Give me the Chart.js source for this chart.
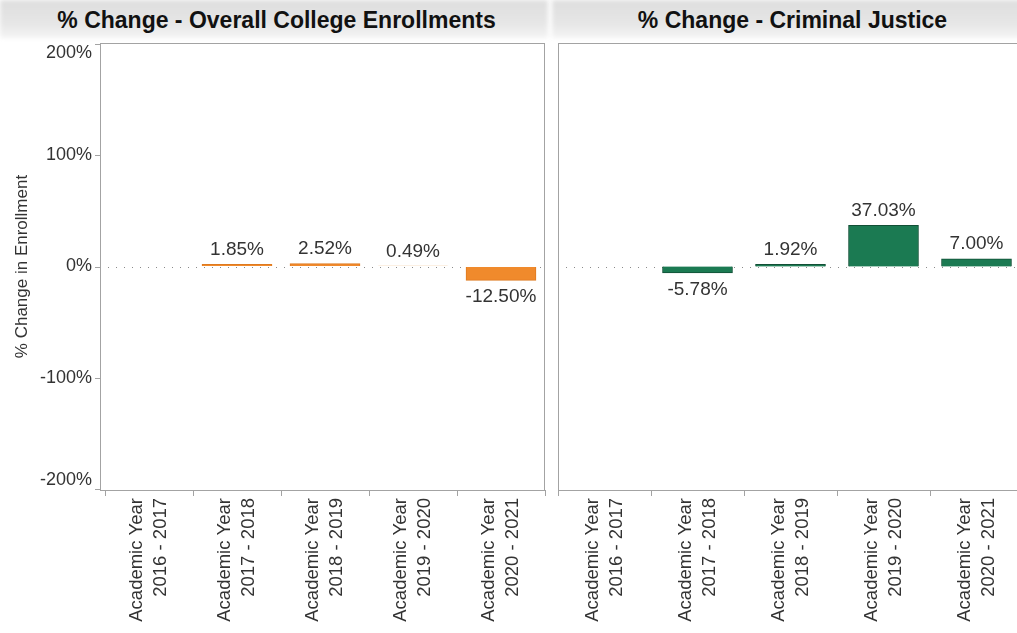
<!DOCTYPE html>
<html><head><meta charset="utf-8">
<script src="https://cdn.jsdelivr.net/npm/chart.js@4/dist/chart.umd.min.js"></script>
<style>
html,body{margin:0;padding:0;background:#fff;width:1017px;height:633px;overflow:hidden;position:relative;font-family:"Liberation Sans",Arial,sans-serif;}
.tbar{position:absolute;top:0;height:38px;background:linear-gradient(#dedede,#e6e6e6 60%,#f4f4f4);filter:blur(2px);}
.ttext{position:absolute;top:0;height:40px;line-height:40px;text-align:center;font-weight:bold;font-size:23px;color:#111;white-space:nowrap;}
#w1{position:absolute;left:0;top:0;width:548px;height:633px;}
#w2{position:absolute;left:550px;top:0;width:480px;height:633px;}
</style></head>
<body>
<div class="tbar" style="left:0;width:548px"></div>
<div class="tbar" style="left:552px;width:470px"></div>
<div class="ttext" style="left:0;width:553px">% Change - Overall College Enrollments</div>
<div class="ttext" style="left:568px;width:449px">% Change - Criminal Justice</div>
<div id="w1"><canvas id="c1" width="548" height="633"></canvas></div>
<div id="w2"><canvas id="c2" width="480" height="633"></canvas></div>
<script>
const categories = [
  ['Academic Year', '2016 - 2017'],
  ['Academic Year', '2017 - 2018'],
  ['Academic Year', '2018 - 2019'],
  ['Academic Year', '2019 - 2020'],
  ['Academic Year', '2020 - 2021']
];
const overallChange = [null, 1.85, 2.52, 0.49, -12.50];
const criminalJusticeChange = [null, -5.78, 1.92, 37.03, 7.00];
const yTickValues = [-200, -100, 0, 100, 200];
const yAxisTitle = '% Change in Enrollment';

const FONT = '"Liberation Sans", Arial, sans-serif';
const TXT = '#333333';

const panelPlugin = {
  id: 'panel',
  beforeDatasetsDraw(chart, args, opts) {
    const {ctx, chartArea: a, scales: {y}} = chart;
    const left = a.left - opts.inset;
    ctx.save();
    const y0 = Math.round(y.getPixelForValue(0)) + 0.5;
    ctx.strokeStyle = '#8a8a8a';
    ctx.lineWidth = 1;
    ctx.setLineDash([1, 7]);
    ctx.beginPath(); ctx.moveTo(left + 8, y0); ctx.lineTo(a.right, y0); ctx.stroke();
    ctx.setLineDash([]);
    ctx.strokeStyle = '#a3a3a3';
    ctx.strokeRect(left + 0.5, a.top + 0.5, a.right - left - 1, a.bottom - a.top);
    if (opts.yTicks) {
      ctx.beginPath();
      y.ticks.forEach(t => {
        const py = Math.round(y.getPixelForValue(t.value)) + 0.5;
        ctx.moveTo(left - 5, py); ctx.lineTo(left, py);
      });
      ctx.stroke();
    }
    ctx.restore();
  },
  afterDatasetsDraw(chart) {
    const {ctx} = chart;
    const meta = chart.getDatasetMeta(0);
    const data = chart.data.datasets[0].data;
    ctx.save();
    ctx.font = '19px ' + FONT;
    ctx.fillStyle = TXT;
    ctx.textAlign = 'center';
    meta.data.forEach((el, i) => {
      const v = data[i];
      if (v === null || v === undefined) return;
      const label = v.toFixed(2) + '%';
      if (v >= 0) { ctx.textBaseline = 'bottom'; ctx.fillText(label, el.x, el.y - 5); }
      else { ctx.textBaseline = 'top'; ctx.fillText(label, el.x, el.y + 7); }
    });
    ctx.restore();
  }
};

function yScale(show) {
  const top = yTickValues[yTickValues.length - 1], bottom = yTickValues[0];
  return {
    display: show,
    min: -201, max: 201,
    afterBuildTicks(s) { s.ticks = yTickValues.map(v => ({value: v})); },
    afterFit(s) { if (show) s.width = 105; s.paddingTop = 0; s.paddingBottom = 0; },
    grid: {drawOnChartArea: false, drawTicks: false},
    border: {display: false},
    ticks: {
      callback: v => v === top ? ['', v + '%'] : (v === bottom ? [v + '%', ''] : v + '%'),
      font: {size: 18, family: FONT, lineHeight: 1.0}, color: TXT, padding: 13
    },
    title: {display: show, text: yAxisTitle, font: {size: 17, family: FONT}, color: TXT, padding: {top: 12, bottom: 0}}
  };
}
function xScale() {
  return {
    type: 'category',
    offset: true,
    afterFit(s) { s.height = 143; s.paddingLeft = 0; s.paddingRight = 0; },
    grid: {offset: true, drawOnChartArea: false, drawTicks: true, tickLength: 6, color: '#a3a3a3'},
    border: {display: false},
    ticks: {maxRotation: 90, minRotation: 90, autoSkip: false, padding: 2, labelOffset: -12,
      font: {size: 18.5, family: FONT, lineHeight: 1.3}, color: TXT}
  };
}
function makeChart(id, values, fill, border, showY, padding) {
  return new Chart(document.getElementById(id), {
    type: 'bar',
    data: {labels: categories, datasets: [{data: values, backgroundColor: fill, borderColor: border, borderWidth: 1, barThickness: 70}]},
    options: {
      responsive: false, animation: false,
      layout: {padding: padding},
      plugins: {legend: {display: false}, tooltip: {enabled: false}, panel: {inset: showY ? 5 : 0, yTicks: showY}},
      scales: {x: xScale(), y: yScale(showY)}
    },
    plugins: [panelPlugin]
  });
}
makeChart('c1', overallChange, '#f08a2c', '#de7a20', true, {top: 43, left: 0, right: 3, bottom: 0});
makeChart('c2', criminalJusticeChange, '#1b7a52', '#124f36', false, {top: 43, left: 8, right: 7, bottom: 0});
</script>
</body></html>
